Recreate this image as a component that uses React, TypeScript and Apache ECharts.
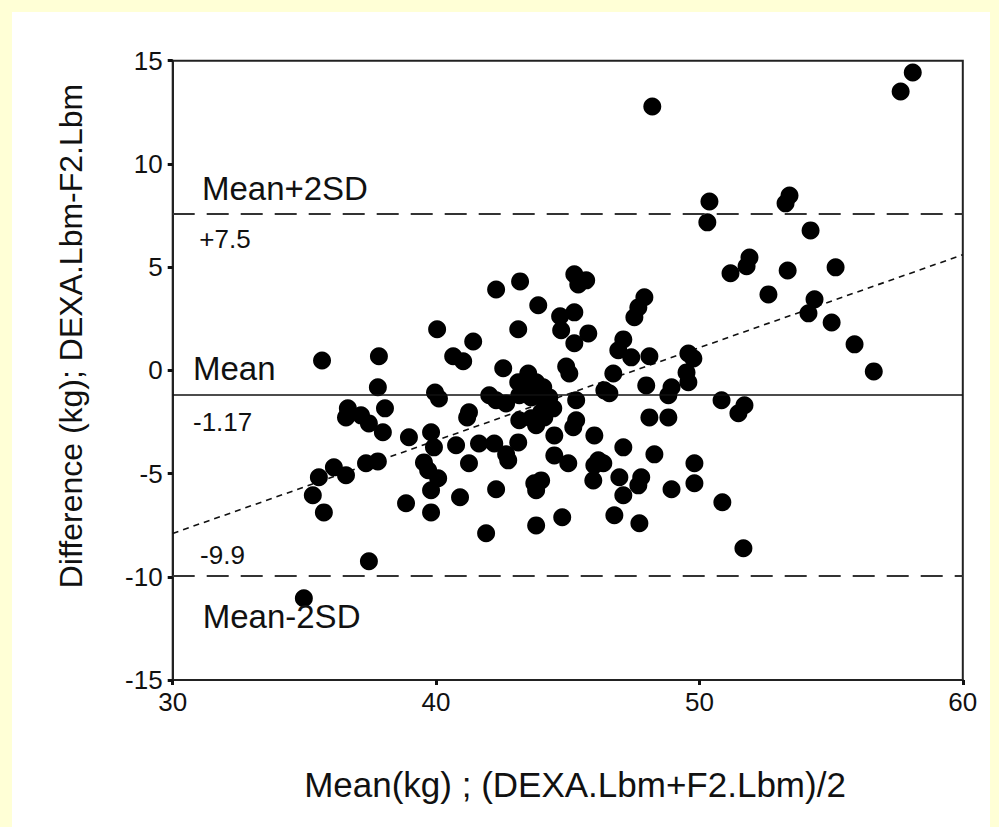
import React, { useEffect, useRef } from "react";
import * as echarts from "echarts";

// Bland-Altman data: mean of the two methods (kg) and their difference (kg)
const meanKg = [
  58.1, 57.64, 48.21, 50.38, 50.3, 53.42, 53.27, 54.22, 51.9, 51.79, 51.18, 53.35, 55.17, 52.62, 54.37, 54.14,
  55.02, 55.89, 56.62, 49.58, 49.77, 49.51, 49.58, 50.84, 51.71, 51.48, 49.81, 49.81, 50.87, 51.67,
  40.04, 42.28, 43.19, 43.88, 45.25, 45.7, 45.4, 44.71, 45.25, 44.75, 45.78, 45.25, 43.12, 41.41, 40.65, 41.03,
  42.55, 44.94, 45.06, 47.91, 47.68, 47.53, 47.11, 46.92, 47.41, 48.1, 46.73, 39.96, 40.11, 42.02, 42.28, 42.66,
  43.5, 43.12, 43.8, 44.07, 43.5, 43.16, 43.61, 44.07, 44.3, 44.45, 43.99, 43.61, 43.16, 43.8, 44.11,
  46.39, 46.58, 47.98, 48.94, 48.82, 45.32, 41.25, 41.18, 45.32, 45.21, 48.1, 48.82, 46.01, 39.81, 39.92, 40.76,
  41.63, 42.21, 42.66, 43.12, 44.49, 44.49, 45.02, 47.11, 48.29, 39.54, 41.25, 46.16, 39.7, 40.08, 39.81,
  40.91, 42.28, 42.74, 43.73, 43.99, 43.8, 46.01, 46.35, 45.97, 46.96, 47.79, 47.68, 47.11, 48.94,
  39.81, 41.9, 43.8, 44.79, 46.77, 47.72, 35.55, 36.12, 36.58, 37.34, 37.79, 35.32, 35.74, 38.86, 37.45, 34.98,
  35.67, 37.83, 37.79, 36.65, 36.58, 37.15, 37.45, 38.06, 37.98, 38.97,
];
const diffKg = [
  14.43, 13.51, 12.78, 8.18, 7.17, 8.47, 8.09, 6.78, 5.47, 5.04, 4.7, 4.84, 4.99, 3.68, 3.44, 2.76,
  2.32, 1.26, -0.05, 0.82, 0.58, -0.1, -0.58, -1.45, -1.69, -2.08, -4.5, -5.47, -6.39, -8.62,
  1.99, 3.92, 4.31, 3.15, 4.65, 4.36, 4.16, 2.62, 2.81, 1.94, 1.79, 1.31, 1.99, 1.4, 0.68, 0.44,
  0.1, 0.19, -0.15, 3.54, 3.05, 2.57, 1.5, 0.97, 0.63, 0.68, -0.15, -1.07, -1.36, -1.21, -1.45, -1.6,
  -0.15, -0.58, -0.58, -0.82, -0.97, -1.21, -1.31, -1.36, -1.31, -1.84, -2.03, -2.32, -2.42, -2.66, -2.28,
  -0.97, -1.11, -0.73, -0.82, -1.21, -1.45, -2.03, -2.28, -2.42, -2.76, -2.28, -2.28, -3.15, -3.0, -3.73, -3.63,
  -3.54, -3.54, -4.07, -3.49, -3.15, -4.12, -4.5, -3.73, -4.07, -4.46, -4.5, -4.36, -4.84, -5.23, -5.81,
  -6.15, -5.76, -4.36, -5.47, -5.33, -5.81, -4.6, -4.5, -5.33, -5.18, -5.18, -5.57, -6.05, -5.76,
  -6.88, -7.89, -7.51, -7.12, -7.02, -7.41, -5.18, -4.7, -5.08, -4.5, -4.41, -6.05, -6.88, -6.44, -9.25, -11.04,
  0.48, 0.68, -0.82, -1.84, -2.28, -2.18, -2.57, -1.84, -3.0, -3.24,
];

const meanDiff = -1.17;
const upperLimit = 7.6;
const lowerLimit = -9.95;
const regressionX = [30, 60];
const regressionY = [-7.9, 5.6];
const xTickValues = [30, 40, 50, 60];
const yTickValues = [-15, -10, -5, 0, 5, 10, 15];

const annotationTexts = ["Mean+2SD", "+7.5", "Mean", "-1.17", "-9.9", "Mean-2SD"];
const annotationX = [31.11, 31.01, 30.77, 30.77, 31.04, 31.14];
const annotationY = [8.83, 6.36, 0.11, -2.5, -8.95, -11.9];
const annotationSize = [33, 26, 33, 26, 26, 33];

const xTitle = "Mean(kg) ; (DEXA.Lbm+F2.Lbm)/2";
const yTitle = "Difference (kg); DEXA.Lbm-F2.Lbm";

const FONT = "'Liberation Sans', Arial, Helvetica, sans-serif";

export default function App() {
  const ref = useRef<HTMLDivElement>(null);

  useEffect(() => {
    if (!ref.current) return;
    const chart = echarts.init(ref.current, null, { renderer: "svg" });
    const points = meanKg.map((m, i) => [m, diffKg[i]]);
    chart.setOption({
      animation: false,
      backgroundColor: "#FFFFD6",
      grid: {
        left: 172.7,
        right: 36.2,
        top: 60.7,
        bottom: 147,
        show: true,
        borderColor: "#222",
        borderWidth: 2,
        backgroundColor: "transparent",
      },
      xAxis: {
        type: "value",
        min: 30,
        max: 60,
        interval: 10,
        axisLine: { show: true, onZero: false, lineStyle: { color: "#222", width: 2 } },
        axisTick: { show: true, length: 5, lineStyle: { color: "#111", width: 3 } },
        axisLabel: {
          color: "#111",
          fontSize: 26,
          fontFamily: FONT,
          margin: 9,
          formatter: (v: number) => (xTickValues.includes(v) ? String(v) : ""),
        },
        splitLine: { show: false },
      },
      yAxis: {
        type: "value",
        min: -15,
        max: 15,
        interval: 5,
        axisLine: { show: true, onZero: false, lineStyle: { color: "#222", width: 2 } },
        axisTick: { show: true, length: 5, lineStyle: { color: "#111", width: 3 } },
        axisLabel: {
          color: "#111",
          fontSize: 26,
          fontFamily: FONT,
          margin: 10,
          formatter: (v: number) => (yTickValues.includes(v) ? String(v) : ""),
        },
        splitLine: { show: false },
      },
      series: [
        {
          type: "line",
          data: [
            [regressionX[0], regressionY[0]],
            [regressionX[1], regressionY[1]],
          ],
          symbol: "none",
          lineStyle: { color: "#111", width: 1.6, type: [6, 5] },
          z: 1,
          silent: true,
          markLine: {
            silent: true,
            symbol: "none",
            label: { show: false },
            data: [
              { yAxis: upperLimit, lineStyle: { color: "#333", width: 2, type: [22, 12] } },
              { yAxis: meanDiff, lineStyle: { color: "#111", width: 1.6, type: "solid" } },
              { yAxis: lowerLimit, lineStyle: { color: "#333", width: 2, type: [22, 12] } },
            ],
          },
        },
        {
          type: "scatter",
          data: points,
          symbol: "circle",
          symbolSize: 18,
          itemStyle: { color: "#000", opacity: 1 },
          z: 3,
        },
      ],
    });

    const annotations = annotationTexts.map((t, i) => {
      const p = chart.convertToPixel({ gridIndex: 0 }, [annotationX[i], annotationY[i]]) as number[];
      return {
        type: "text",
        x: p[0],
        y: p[1],
        z: 10,
        style: {
          text: t,
          fontSize: annotationSize[i],
          fontFamily: FONT,
          fill: "#111",
          align: "left",
          verticalAlign: "middle",
        },
      };
    });

    chart.setOption({
      graphic: [
        {
          type: "rect",
          shape: { x: 12, y: 12, width: 978, height: 815 },
          style: { fill: "#ffffff" },
          z: -10,
          silent: true,
        },
        ...annotations,
        {
          type: "text",
          x: 575,
          y: 784,
          z: 10,
          style: {
            text: xTitle,
            fontSize: 35,
            fontFamily: FONT,
            fill: "#111",
            align: "center",
            verticalAlign: "middle",
          },
        },
        {
          type: "text",
          x: 71,
          y: 336,
          rotation: Math.PI / 2,
          z: 10,
          style: {
            text: yTitle,
            fontSize: 32,
            fontFamily: FONT,
            fill: "#111",
            align: "center",
            verticalAlign: "middle",
          },
        },
      ],
    });

    return () => chart.dispose();
  }, []);

  return (
    <div
      ref={ref}
      style={{ position: "fixed", left: 0, top: 0, width: 999, height: 827 }}
    />
  );
}
